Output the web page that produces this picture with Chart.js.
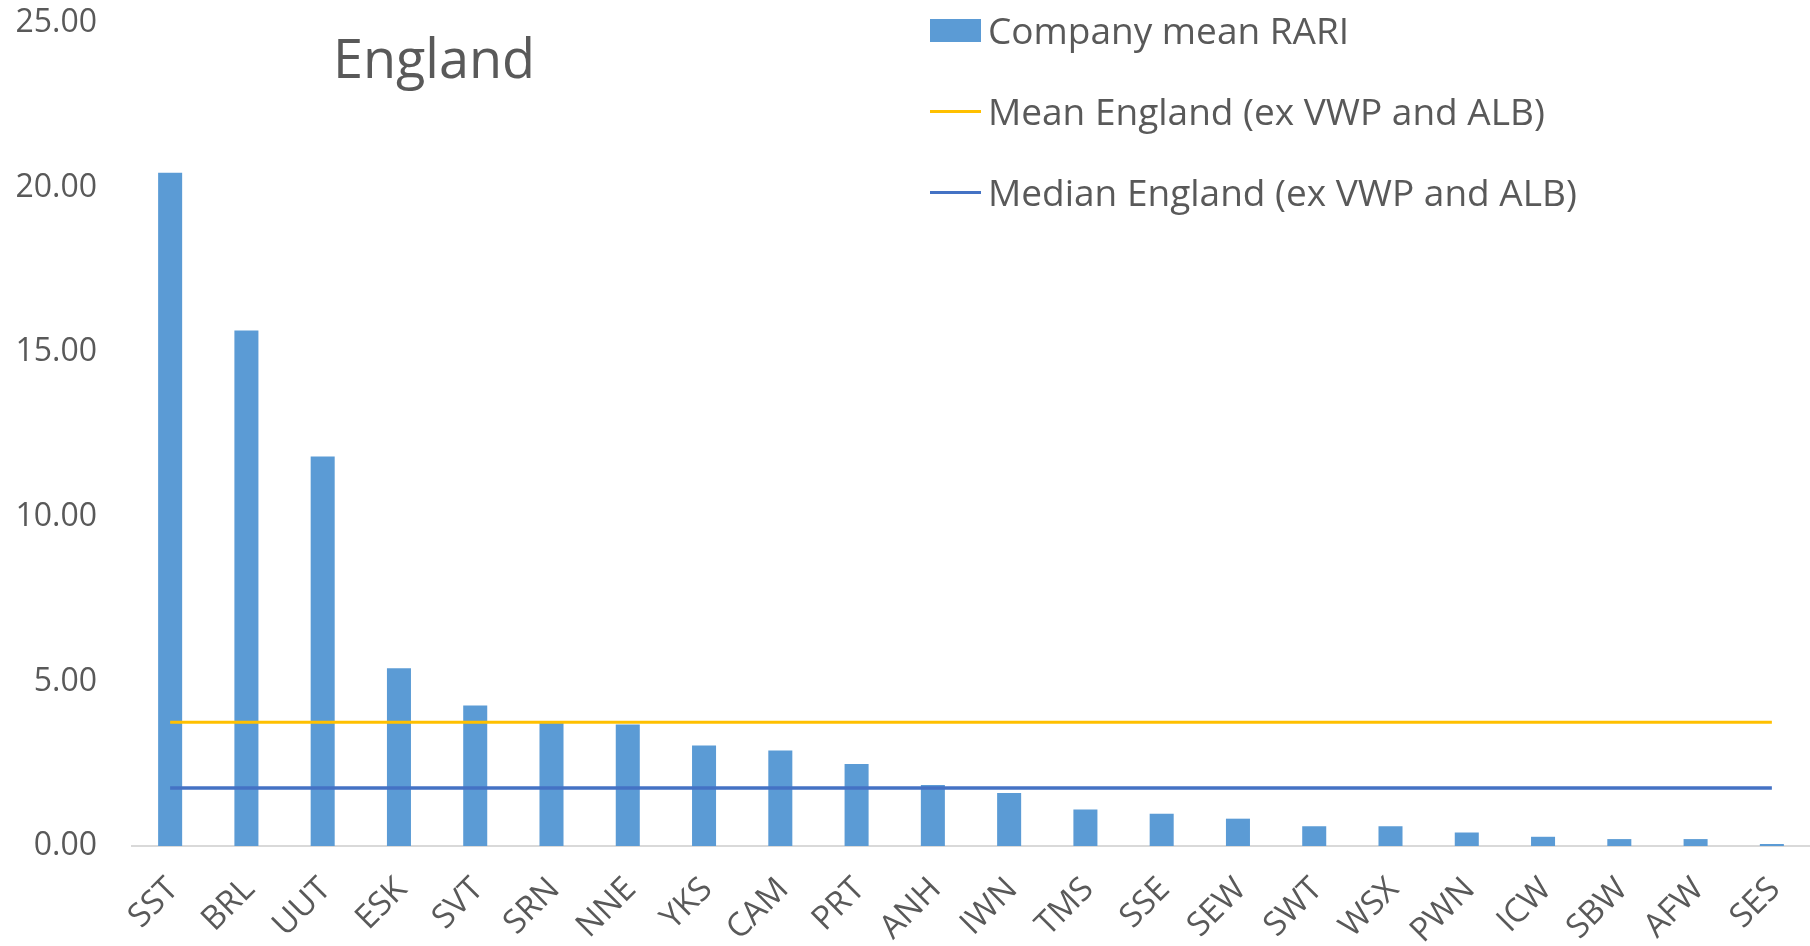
<!DOCTYPE html>
<html>
<head>
<meta charset="utf-8">
<script src="https://cdn.jsdelivr.net/npm/chart.js@4/dist/chart.umd.min.js"></script>
<style>
  body { margin: 0; background: #fff; }
  #wrap { position: relative; width: 1810px; height: 946px; font-family: 'Open Sans', sans-serif; color: #595959; }
  #title { position: absolute; left: 284px; top: 30px; width: 300px; text-align: center; font-size: 54px; line-height: 54px; }
  #legend { position: absolute; left: 930px; top: 10px; }
  .row { display: flex; align-items: center; height: 40px; margin-bottom: 41px; font-size: 37px; line-height: 40px; }
  .sw { width: 51px; margin-right: 7px; }
</style>
</head>
<body>
<div id="wrap">
  <canvas id="chart" width="1810" height="946"></canvas>
  <div id="title">England</div>
  <div id="legend"></div>
</div>
<script>
// categories (x axis)
const companies = ['SST', 'BRL', 'UUT', 'ESK', 'SVT', 'SRN', 'NNE', 'YKS', 'CAM', 'PRT', 'ANH',
  'IWN', 'TMS', 'SSE', 'SEW', 'SWT', 'WSX', 'PWN', 'ICW', 'SBW', 'AFW', 'SES'];

// company mean RARI (bars)
const companyMeanRari = [20.45, 15.66, 11.83, 5.40, 4.27, 3.76, 3.69, 3.05, 2.90, 2.49, 1.85,
  1.61, 1.11, 0.98, 0.83, 0.60, 0.60, 0.41, 0.28, 0.21, 0.21, 0.06];

// mean / median England (ex VWP and ALB), flat lines
const meanEngland = [3.76, 3.76, 3.76, 3.76, 3.76, 3.76, 3.76, 3.76, 3.76, 3.76, 3.76,
  3.76, 3.76, 3.76, 3.76, 3.76, 3.76, 3.76, 3.76, 3.76, 3.76, 3.76];
const medianEngland = [1.76, 1.76, 1.76, 1.76, 1.76, 1.76, 1.76, 1.76, 1.76, 1.76, 1.76,
  1.76, 1.76, 1.76, 1.76, 1.76, 1.76, 1.76, 1.76, 1.76, 1.76, 1.76];

// y axis ticks
const yTicks = [0, 5, 10, 15, 20, 25];

const seriesNames = ['Company mean RARI', 'Mean England (ex VWP and ALB)', 'Median England (ex VWP and ALB)'];
const seriesColors = ['#5B9BD5', '#FFC000', '#4472C4'];

const tickFont = { family: "'Open Sans', sans-serif", size: 32 };

const chart = new Chart(document.getElementById('chart'), {
  type: 'bar',
  data: {
    labels: companies,
    datasets: [
      {
        type: 'line',
        label: seriesNames[2],
        data: medianEngland,
        borderColor: seriesColors[2],
        borderWidth: 3.5,
        pointRadius: 0,
        order: 0,
      },
      {
        type: 'line',
        label: seriesNames[1],
        data: meanEngland,
        borderColor: seriesColors[1],
        borderWidth: 3,
        pointRadius: 0,
        order: 1,
      },
      {
        label: seriesNames[0],
        data: companyMeanRari,
        backgroundColor: seriesColors[0],
        categoryPercentage: 1,
        barPercentage: 0.315,
        order: 2,
      },
    ],
  },
  options: {
    responsive: false,
    animation: false,
    layout: { padding: { top: 23, right: 0, left: 0, bottom: 0 } },
    plugins: {
      legend: { display: false },
      title: { display: false },
      tooltip: { enabled: false },
    },
    scales: {
      x: {
        grid: { display: false, drawTicks: false },
        border: { display: true, color: '#D9D9D9', width: 2 },
        ticks: {
          color: '#595959',
          font: { family: "'Open Sans', sans-serif", size: 33 },
          minRotation: 45,
          maxRotation: 45,
          padding: 24,
          labelOffset: 3,
        },
        afterFit: (scale) => {
          scale.height = 100;
          scale.paddingLeft = 0;
          scale.paddingRight = 0;
        },
      },
      y: {
        min: 0,
        max: 25,
        grid: { display: false, drawTicks: false },
        border: { display: false },
        afterBuildTicks: (scale) => { scale.ticks = yTicks.map((v) => ({ value: v })); },
        ticks: {
          color: '#595959',
          font: tickFont,
          padding: 35,
          callback: (v) => Number(v).toFixed(2),
        },
        afterFit: (scale) => {
          scale.width = 132;
          scale.paddingTop = 0;
          scale.paddingBottom = 0;
        },
      },
    },
  },
});

// legend in the same order as the reference
const legendEl = document.getElementById('legend');
[0, 1, 2].forEach((i) => {
  const row = document.createElement('div');
  row.className = 'row';
  const sw = document.createElement('span');
  sw.className = 'sw';
  if (i === 0) {
    sw.style.height = '23px';
    sw.style.background = seriesColors[i];
  } else {
    sw.style.height = '3px';
    sw.style.background = seriesColors[i];
  }
  const txt = document.createElement('span');
  txt.textContent = seriesNames[i];
  row.appendChild(sw);
  row.appendChild(txt);
  legendEl.appendChild(row);
});
</script>
</body>
</html>
